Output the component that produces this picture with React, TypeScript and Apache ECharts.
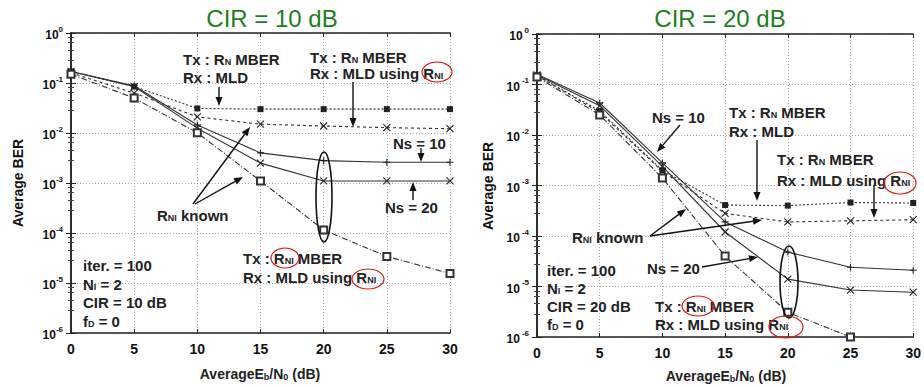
import React, { useEffect, useRef } from "react";
import * as echarts from "echarts";

const X = [0, 5, 10, 15, 20, 25, 30];

// CIR = 10 dB
const L_mberMld = [0.17, 0.085, 0.031, 0.03, 0.03, 0.03, 0.03];
const L_mberMldRni = [0.16, 0.063, 0.021, 0.015, 0.0138, 0.0128, 0.0122];
const L_ns10 = [0.17, 0.088, 0.0145, 0.004, 0.0028, 0.0026, 0.0026];
const L_ns20 = [0.17, 0.085, 0.0125, 0.0025, 0.0011, 0.0011, 0.0011];
const L_rni = [0.15, 0.05, 0.0101, 0.0011, 0.000115, 0.000034, 0.0000155];

// CIR = 20 dB
const R_mberMld = [0.15, 0.03, 0.002, 0.00041, 0.0004, 0.00046, 0.00045];
const R_mberMldRni = [0.15, 0.028, 0.0019, 0.00028, 0.00019, 0.0002, 0.00021];
const R_ns10 = [0.16, 0.043, 0.0028, 0.00019, 0.000048, 0.000024, 0.000021];
const R_ns20 = [0.155, 0.038, 0.0024, 0.00012, 0.000014, 0.0000085, 0.0000077];
const R_rni = [0.14, 0.025, 0.0014, 0.00004, 0.0000031, 0.000001, null];

const TITLES = ["CIR = 10 dB", "CIR = 20 dB"];
const FONT = "'Liberation Sans', Arial, sans-serif";
const INK = "#222";

const pairs = (arr: (number | null)[]) =>
  X.map((x, i) => [x, arr[i]]).filter((p) => p[1] != null);

const CROSS = "path://M0,0L10,10M10,0L0,10";
const PLUS = "path://M5,0L5,10M0,5L10,5";

function mk(grid: number, arr: (number | null)[], kind: string) {
  const base: any = {
    type: "line",
    xAxisIndex: grid * 2,
    yAxisIndex: grid * 2,
    data: pairs(arr),
    symbolSize: 6,
    lineStyle: { color: "#333", width: 1.1 },
    itemStyle: { color: "#333" },
    z: 3,
  };
  if (kind === "mberMld") {
    base.symbol = "rect";
    base.symbolSize = 6;
    base.lineStyle.type = [2, 2];
    base.itemStyle = { color: "#222" };
  } else if (kind === "mberMldRni") {
    base.symbol = CROSS;
    base.symbolSize = 7;
    base.lineStyle.type = [3, 3];
    base.itemStyle = { color: "rgba(0,0,0,0)", borderColor: "#222", borderWidth: 1.1 };
  } else if (kind === "ns10") {
    base.symbol = PLUS;
    base.symbolSize = 7;
    base.lineStyle.type = "solid";
    base.itemStyle = { color: "rgba(0,0,0,0)", borderColor: "#222", borderWidth: 1.1 };
  } else if (kind === "ns20") {
    base.symbol = CROSS;
    base.symbolSize = 7;
    base.lineStyle.type = "solid";
    base.itemStyle = { color: "rgba(0,0,0,0)", borderColor: "#222", borderWidth: 1.1 };
  } else {
    base.symbol = "emptyRect";
    base.symbolSize = 7;
    base.lineStyle.type = [6, 2, 1, 2];
    base.itemStyle = { color: "#333", borderWidth: 1 };
  }
  return base;
}

const richBase = {
  a: { fontSize: 15, fontWeight: "bold", fontFamily: FONT, fill: INK, color: INK, lineHeight: 15, verticalAlign: "bottom" },
  s: { fontSize: 9, fontWeight: "bold", fontFamily: FONT, fill: INK, color: INK, lineHeight: 10, verticalAlign: "bottom" },
};

function txt(x: number, y: number, text: string, extra: any = {}) {
  return {
    type: "text",
    x,
    y,
    z: 10,
    style: {
      text,
      rich: richBase,
      fill: INK,
      align: "left",
      verticalAlign: "middle",
      ...extra,
    },
  };
}

function arrow(x1: number, y1: number, x2: number, y2: number) {
  const ang = Math.atan2(y2 - y1, x2 - x1);
  const L = 9,
    W = 3.5;
  const c = Math.cos(ang),
    s = Math.sin(ang);
  const bx = x2 - L * c,
    by = y2 - L * s;
  const px = -s * W,
    py = c * W;
  return [
    { type: "line", z: 10, shape: { x1, y1, x2: bx, y2: by }, style: { stroke: "#111", lineWidth: 1.4 } },
    {
      type: "polygon",
      z: 10,
      shape: { points: [[x2, y2], [bx + px, by + py], [bx - px, by - py]] },
      style: { fill: "#111" },
    },
  ];
}

function ell(cx: number, cy: number, rx: number, ry: number, red = false) {
  return {
    type: "ellipse",
    z: 11,
    shape: { cx, cy, rx, ry },
    style: { fill: "none", stroke: red ? "#e01818" : "#111", lineWidth: red ? 1.2 : 1.6 },
  };
}

const GRIDS = [
  { left: 71, top: 33, width: 379, height: 300 },
  { left: 537, top: 34, width: 378, height: 303 },
];

function axesFor(g: number) {
  const xMain = {
    gridIndex: g,
    type: "value",
    min: 0,
    max: 30,
    interval: 5,
    axisLine: { show: true, lineStyle: { color: INK, width: 1.5 } },
    axisTick: { show: true, inside: true, length: 4, lineStyle: { color: INK } },
    axisLabel: { fontSize: 14, fontWeight: "bold", color: "#111", fontFamily: FONT, margin: 9 },
    splitLine: { show: true, lineStyle: { color: "#aaa", type: [1, 2], width: 1 } },
  };
  const xTop = {
    gridIndex: g,
    type: "value",
    position: "top",
    min: 0,
    max: 30,
    interval: 5,
    axisLine: { show: true, lineStyle: { color: INK, width: 1.5 } },
    axisTick: { show: true, inside: true, length: 4, lineStyle: { color: INK } },
    axisLabel: { show: false },
    splitLine: { show: false },
  };
  const supPad = g === 1 ? [0, 0, 0, 2] : [0, 0, 0, 0];
  const yMain = {
    gridIndex: g,
    type: "log",
    logBase: 10,
    min: 1e-6,
    max: 1,
    interval: 1,
    axisLine: { show: true, lineStyle: { color: INK, width: 1.5 } },
    axisTick: { show: true, inside: true, length: 5, lineStyle: { color: INK } },
    minorTick: { show: true, splitNumber: 5, length: 3, lineStyle: { color: "#444" } },
    axisLabel: {
      margin: 8,
      formatter: (v: number) => `{b|10}{s|${Math.round(Math.log10(v))}}`,
      rich: {
        b: { fontSize: 12, fontWeight: "bold", color: "#111", fontFamily: FONT, lineHeight: 16, verticalAlign: "bottom" },
        s: { fontSize: 8, fontWeight: "bold", color: "#111", fontFamily: FONT, lineHeight: 9, verticalAlign: "top", padding: supPad },
      },
    },
    splitLine: { show: true, lineStyle: { color: "#aaa", type: [1, 2], width: 1 } },
  };
  const yRight = {
    gridIndex: g,
    type: "log",
    logBase: 10,
    position: "right",
    min: 1e-6,
    max: 1,
    interval: 1,
    axisLine: { show: true, lineStyle: { color: INK, width: 1.5 } },
    axisTick: { show: true, inside: true, length: 5, lineStyle: { color: INK } },
    minorTick: { show: true, splitNumber: 5, length: 3, lineStyle: { color: "#444" } },
    axisLabel: { show: false },
    splitLine: { show: false },
  };
  return { x: [xMain, xTop], y: [yMain, yRight] };
}

export default function App() {
  const ref = useRef<HTMLDivElement>(null);
  useEffect(() => {
    document.body.style.margin = "0";
    if (!ref.current) return;
    const chart = echarts.init(ref.current, null, { renderer: "svg" });
    const a0 = axesFor(0);
    const a1 = axesFor(1);

    const axName = { a: { ...richBase.a, fontSize: 14, lineHeight: 16 }, s: { ...richBase.s, lineHeight: 11 } };

    const graphics: any[] = [
      // titles
      { type: "text", x: 272, y: 18, style: { text: TITLES[0], fill: "#1e7d1e", font: `24px ${FONT}`, align: "center", verticalAlign: "middle" } },
      { type: "text", x: 720, y: 18, style: { text: TITLES[1], fill: "#1e7d1e", font: `24px ${FONT}`, align: "center", verticalAlign: "middle" } },
      // y axis names
      { type: "text", x: 18, y: 183, rotation: Math.PI / 2, style: { text: "Average BER", fill: "#111", font: `bold 14px ${FONT}`, align: "center", verticalAlign: "middle" } },
      { type: "text", x: 488, y: 186, rotation: Math.PI / 2, style: { text: "Average BER", fill: "#111", font: `bold 14px ${FONT}`, align: "center", verticalAlign: "middle" } },
      // x axis names
      txt(260, 373, "{a|AverageE}{s|b}{a|/N}{s|0}{a| (dB)}", { align: "center", rich: axName }),
      txt(726, 375, "{a|AverageE}{s|b}{a|/N}{s|0}{a| (dB)}", { align: "center", rich: axName }),

      // ---- left chart annotations
      txt(183, 59, "{a|Tx : R}{s|N}{a| MBER}"),
      txt(183, 77, "{a|Rx : MLD}"),
      ...arrow(219, 87, 219, 106),
      txt(310, 57, "{a|Tx : R}{s|N}{a| MBER}"),
      txt(310, 73, "{a|Rx : MLD using R}{s|NI}"),
      ell(437, 72, 15, 10, true),
      ...arrow(353, 82, 353, 127),
      txt(393, 143, "{a|Ns = 10}"),
      ...arrow(421, 148, 421, 162),
      txt(385, 207, "{a|Ns = 20}"),
      ...arrow(413, 200, 413, 182),
      txt(157, 215, "{a|R}{s|NI}{a| known}"),
      ...arrow(193, 204, 250, 127),
      ...arrow(195, 204, 243, 177),
      ell(324, 197, 8, 45),
      txt(243, 258, "{a|Tx : R}{s|NI}{a| MBER}"),
      ell(285, 258, 14, 10, true),
      txt(243, 277, "{a|Rx : MLD using R}{s|NI}"),
      ell(368, 279, 16, 10, true),
      txt(83, 265, "{a|iter. = 100}"),
      txt(83, 284, "{a|N}{s|I}{a| = 2}"),
      txt(83, 302, "{a|CIR = 10 dB}"),
      txt(83, 321, "{a|f}{s|D}{a| = 0}"),

      // ---- right chart annotations
      txt(652, 117, "{a|Ns = 10}"),
      ...arrow(680, 125, 657, 152),
      txt(729, 112, "{a|Tx : R}{s|N}{a| MBER}"),
      txt(729, 131, "{a|Rx : MLD}"),
      ...arrow(757, 140, 757, 201),
      txt(777, 159, "{a|Tx : R}{s|N}{a| MBER}"),
      txt(777, 180, "{a|Rx : MLD using R}{s|NI}"),
      ell(900, 183, 16, 11, true),
      ...arrow(874, 185, 874, 218),
      txt(572, 237, "{a|R}{s|NI}{a| known}"),
      ...arrow(650, 236, 686, 209),
      ...arrow(650, 236, 762, 220),
      txt(647, 268, "{a|Ns = 20}"),
      ...arrow(702, 267, 758, 257),
      ell(789, 282, 9, 36),
      txt(655, 306, "{a|Tx : R}{s|NI}{a| MBER}"),
      ell(698, 306, 16, 10, true),
      txt(655, 324, "{a|Rx : MLD using R}{s|NI}"),
      ell(786, 327, 17, 11, true),
      txt(547, 270, "{a|iter. = 100}"),
      txt(547, 288, "{a|N}{s|I}{a| = 2}"),
      txt(547, 306, "{a|CIR = 20 dB}"),
      txt(547, 324, "{a|f}{s|D}{a| = 0}"),
    ];

    chart.setOption({
      animation: false,
      backgroundColor: "#fff",
      grid: GRIDS.map((g) => ({ ...g, show: false, containLabel: false })),
      xAxis: [...a0.x, ...a1.x],
      yAxis: [...a0.y, ...a1.y],
      series: [
        mk(0, L_mberMld, "mberMld"),
        mk(0, L_mberMldRni, "mberMldRni"),
        mk(0, L_ns10, "ns10"),
        mk(0, L_ns20, "ns20"),
        mk(0, L_rni, "rni"),
        mk(1, R_mberMld, "mberMld"),
        mk(1, R_mberMldRni, "mberMldRni"),
        mk(1, R_ns10, "ns10"),
        mk(1, R_ns20, "ns20"),
        mk(1, R_rni, "rni"),
      ],
      graphic: graphics,
    });
    return () => chart.dispose();
  }, []);
  return <div ref={ref} style={{ width: 924, height: 387 }} />;
}
